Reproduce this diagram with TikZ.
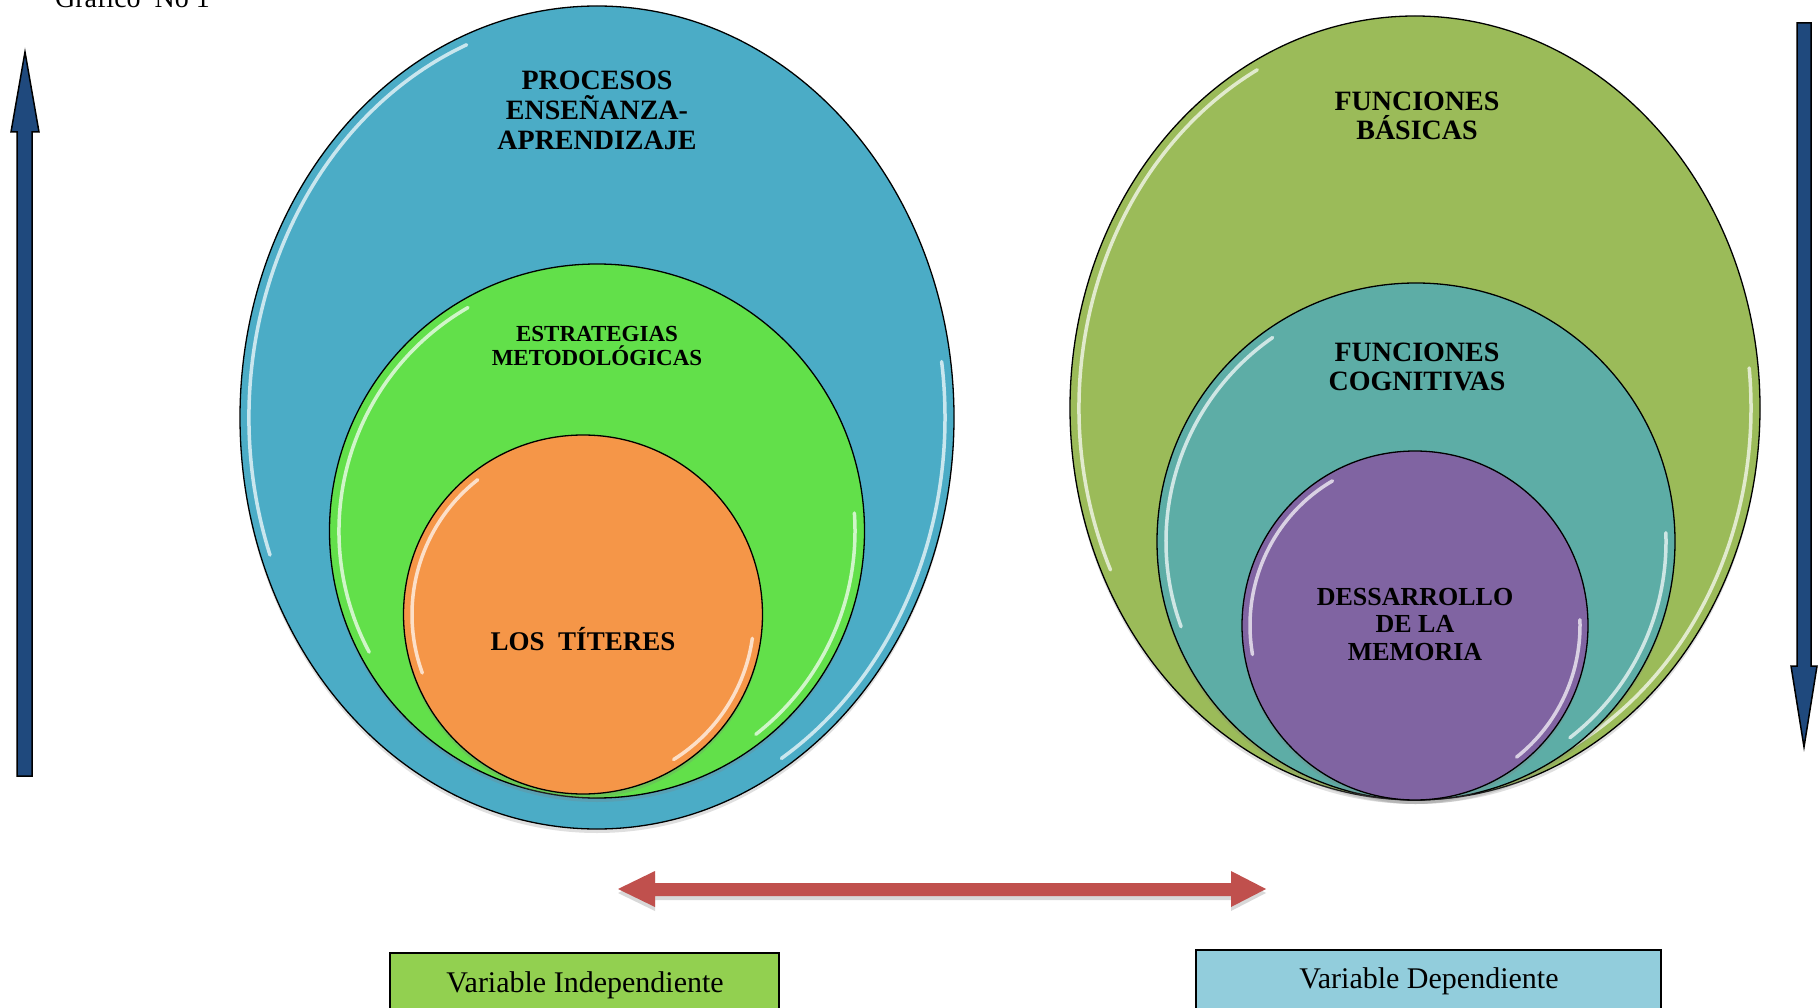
\documentclass[tikz,border=0pt]{standalone}
\usepackage{fontspec}
\setmainfont{Liberation Serif}
\usetikzlibrary{shapes.geometric,shadows}
\definecolor{cblue}{RGB}{75,172,198}
\definecolor{cgreen}{RGB}{98,224,74}
\definecolor{corange}{RGB}{245,150,72}
\definecolor{colive}{RGB}{155,187,89}
\definecolor{cteal}{RGB}{93,173,166}
\definecolor{cpurple}{RGB}{128,100,162}
\definecolor{cred}{RGB}{192,80,77}
\definecolor{cnavy}{RGB}{31,73,125}
\definecolor{boxgreen}{RGB}{146,208,80}
\definecolor{boxblue}{RGB}{146,205,220}
\newcommand\hlarc[6]{\draw[hl] ({#1+(#3)*cos(#5)},{#2+(#4)*sin(#5)}) arc[start angle=#5, end angle=#6, x radius=#3, y radius=#4];}
\begin{document}
\begin{tikzpicture}[x=1pt,y=1pt,
  blob/.style={ellipse, draw=black, line width=1.3pt, inner sep=0pt, outer sep=0pt,
    drop shadow={opacity=0.25, shadow xshift=0pt, shadow yshift=-4pt}},
  hl/.style={draw=white, line width=3.5pt, line cap=round, opacity=0.7},
  lbl/.style={align=center, inner sep=0pt},
  blockarrow/.style={fill=cnavy, draw=black, line width=1.5pt, line join=miter},
  varbox/.style={draw=black, anchor=north west, inner sep=0pt, outer sep=0pt},
  vartext/.style={anchor=base, inner sep=0pt, font=\fontsize{30}{30}\selectfont}]
\fill[white] (0,0) rectangle (1818,-1008);
\useasboundingbox (0,0) rectangle (1818,-1008);

% title
\node[anchor=base west, inner sep=0pt, font=\fontsize{28}{28}\selectfont] (title) at (55,-8) {Gráfico\ \ No 1};

% left group
\node[blob, fill=cblue, minimum width=714pt, minimum height=823pt] (proc) at (597,-417.5) {};
\hlarc{597}{-417.5}{348}{402}{112}{200}
\hlarc{597}{-417.5}{348}{402}{-58}{8}
\node[blob, fill=cgreen, minimum width=535pt, minimum height=534pt] (estr) at (597,-531) {};
\hlarc{597}{-531}{258}{258}{120}{208}
\hlarc{597}{-531}{258}{258}{-52}{4}
\node[blob, fill=corange, minimum width=359pt, minimum height=359pt] (tit) at (583,-614.5) {};
\hlarc{583}{-614.5}{171}{171}{128}{200}
\hlarc{583}{-614.5}{171}{171}{-58}{-8}

\node[lbl, font=\fontsize{28}{30}\selectfont\bfseries] (procl) at (597,-110) {PROCESOS\\ENSEÑANZA-\\APRENDIZAJE};
\node[lbl, font=\fontsize{23}{24}\selectfont\bfseries] (estrl) at (597,-346) {ESTRATEGIAS\\METODOLÓGICAS};
\node[lbl, anchor=base, font=\fontsize{27}{28}\selectfont\bfseries] (titl) at (583,-650) {LOS\ \ TÍTERES};

% right group
\node[blob, fill=colive, minimum width=690pt, minimum height=784pt] (basic) at (1415,-408) {};
\hlarc{1415}{-408}{336}{383}{118}{205}
\hlarc{1415}{-408}{336}{383}{-62}{6}
\node[blob, fill=cteal, minimum width=518pt, minimum height=517pt] (cogn) at (1416,-541.5) {};
\hlarc{1416}{-541.5}{250}{249}{125}{200}
\hlarc{1416}{-541.5}{250}{249}{-52}{2}
\node[blob, fill=cpurple, minimum width=346pt, minimum height=349pt] (mem) at (1415,-625.5) {};
\hlarc{1415}{-625.5}{165}{167}{120}{190}
\hlarc{1415}{-625.5}{165}{167}{-52}{2}

\node[lbl, font=\fontsize{28}{29}\selectfont\bfseries] (basicl) at (1417,-116) {FUNCIONES\\BÁSICAS};
\node[lbl, font=\fontsize{28}{29}\selectfont\bfseries] (cognl) at (1417,-367) {FUNCIONES\\COGNITIVAS};
\node[lbl, font=\fontsize{26}{27.5}\selectfont\bfseries] (meml) at (1415,-624.5) {DESSARROLLO\\DE LA\\MEMORIA};

% vertical block arrows
\draw[blockarrow] (17,-776) -- (17,-132) -- (11,-132) -- (25,-52) -- (39,-132) -- (32,-132) -- (32,-776) -- cycle;
\draw[blockarrow] (1797,-23) -- (1811,-23) -- (1811,-666) -- (1817,-666) -- (1804,-747) -- (1791,-666) -- (1797,-666) -- cycle;

% red double arrow
\fill[cred, drop shadow={opacity=0.3, shadow xshift=0pt, shadow yshift=-4pt}]
  (618,-889) -- (655,-871) -- (655,-883) -- (1231,-883) -- (1231,-871) -- (1266,-889)
  -- (1231,-907) -- (1231,-896) -- (655,-896) -- (655,-907) -- cycle;

% bottom boxes
\node[varbox, fill=boxgreen, line width=2pt, minimum width=389pt, minimum height=80pt] (vind) at (390,-953) {};
\node[vartext] (vindl) at (585,-992) {Variable Independiente};
\node[varbox, fill=boxblue, line width=1.5pt, minimum width=465pt, minimum height=80pt] (vdep) at (1196,-950) {};
\node[vartext] (vdepl) at (1429,-988) {Variable Dependiente};
\end{tikzpicture}
\end{document}
